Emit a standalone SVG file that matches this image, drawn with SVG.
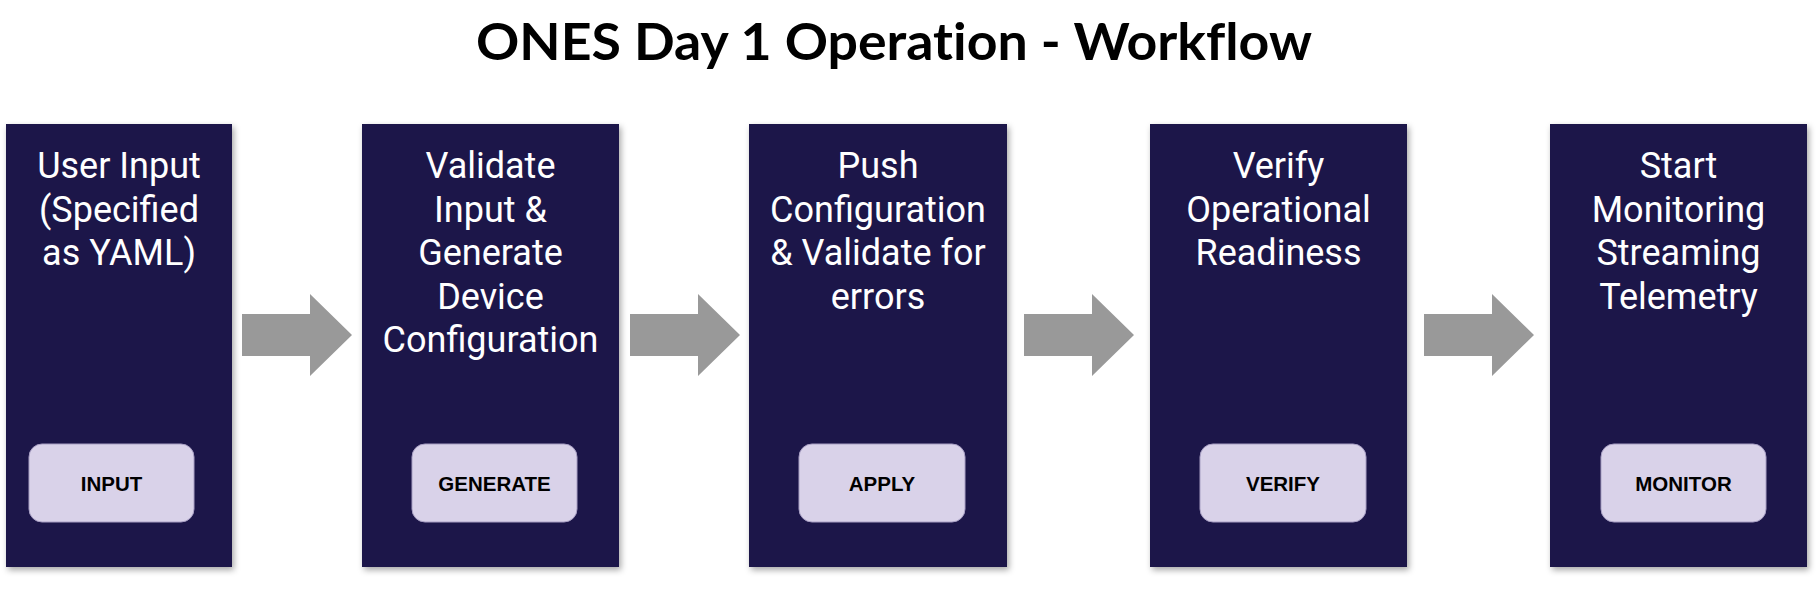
<svg xmlns="http://www.w3.org/2000/svg" xmlns:xlink="http://www.w3.org/1999/xlink" width="1820" height="600" viewBox="0 0 1820 600">
  <defs>
    <filter id="shadow" x="-10%" y="-10%" width="130%" height="130%">
      <feDropShadow dx="2" dy="3" stdDeviation="3" flood-color="#000" flood-opacity="0.35"/>
    </filter>
    <path id="arrow" d="M0,314 H68 V294 L110,335 L68,376 V356 H0 Z"/>
  </defs>
  <style>
    .title { font-family: Lato, "Open Sans", "Liberation Sans", sans-serif; font-weight: 700; font-size: 52px; fill: #000; font-variant-ligatures: none; }
    .box { fill: #1f144a; filter: url(#shadow); }
    .lbl { font-family: Roboto, "Liberation Sans", sans-serif; font-size: 36px; fill: #ffffff; text-anchor: middle; }
    .tag { fill: #d9d2e9; stroke: #a89fc4; stroke-width: 1; }
    .tagtxt { font-family: "Liberation Sans", Arial, sans-serif; font-weight: 700; font-size: 20.5px; fill: #000; text-anchor: middle; }
    .arr { fill: #999999; }
  </style>
  <rect width="1820" height="600" fill="#ffffff"/>

  <text class="title" x="476" y="60" textLength="836" lengthAdjust="spacingAndGlyphs">ONES Day 1 Operation - Workflow</text>

  <g id="connectors">
    <use xlink:href="#arrow" href="#arrow" class="arr" x="242"/>
    <use xlink:href="#arrow" href="#arrow" class="arr" x="630"/>
    <use xlink:href="#arrow" href="#arrow" class="arr" x="1024"/>
    <use xlink:href="#arrow" href="#arrow" class="arr" x="1424"/>
  </g>

  <g id="node-input">
    <rect class="box" x="6" y="124" width="226" height="443"/>
    <text class="lbl" x="119" y="178">User Input</text>
    <text class="lbl" x="119" y="221.5">(Specified</text>
    <text class="lbl" x="119" y="265">as YAML)</text>
    <rect class="tag" x="29" y="444" width="165" height="78" rx="13"/>
    <text class="tagtxt" x="111.5" y="490.5">INPUT</text>
  </g>

  <g id="node-generate">
    <rect class="box" x="362" y="124" width="257" height="443"/>
    <text class="lbl" x="490.5" y="178">Validate</text>
    <text class="lbl" x="490.5" y="221.5">Input &amp;</text>
    <text class="lbl" x="490.5" y="265">Generate</text>
    <text class="lbl" x="490.5" y="308.5">Device</text>
    <text class="lbl" x="490.5" y="352">Configuration</text>
    <rect class="tag" x="412" y="444" width="165" height="78" rx="13"/>
    <text class="tagtxt" x="494.5" y="490.5">GENERATE</text>
  </g>

  <g id="node-apply">
    <rect class="box" x="749" y="124" width="258" height="443"/>
    <text class="lbl" x="878" y="178">Push</text>
    <text class="lbl" x="878" y="221.5">Configuration</text>
    <text class="lbl" x="878" y="265">&amp; Validate for</text>
    <text class="lbl" x="878" y="308.5">errors</text>
    <rect class="tag" x="799" y="444" width="166" height="78" rx="13"/>
    <text class="tagtxt" x="882" y="490.5">APPLY</text>
  </g>

  <g id="node-verify">
    <rect class="box" x="1150" y="124" width="257" height="443"/>
    <text class="lbl" x="1278.5" y="178">Verify</text>
    <text class="lbl" x="1278.5" y="221.5">Operational</text>
    <text class="lbl" x="1278.5" y="265">Readiness</text>
    <rect class="tag" x="1200" y="444" width="166" height="78" rx="13"/>
    <text class="tagtxt" x="1283" y="490.5">VERIFY</text>
  </g>

  <g id="node-monitor">
    <rect class="box" x="1550" y="124" width="257" height="443"/>
    <text class="lbl" x="1678.5" y="178">Start</text>
    <text class="lbl" x="1678.5" y="221.5">Monitoring</text>
    <text class="lbl" x="1678.5" y="265">Streaming</text>
    <text class="lbl" x="1678.5" y="308.5">Telemetry</text>
    <rect class="tag" x="1601" y="444" width="165" height="78" rx="13"/>
    <text class="tagtxt" x="1683.5" y="490.5">MONITOR</text>
  </g>
</svg>
